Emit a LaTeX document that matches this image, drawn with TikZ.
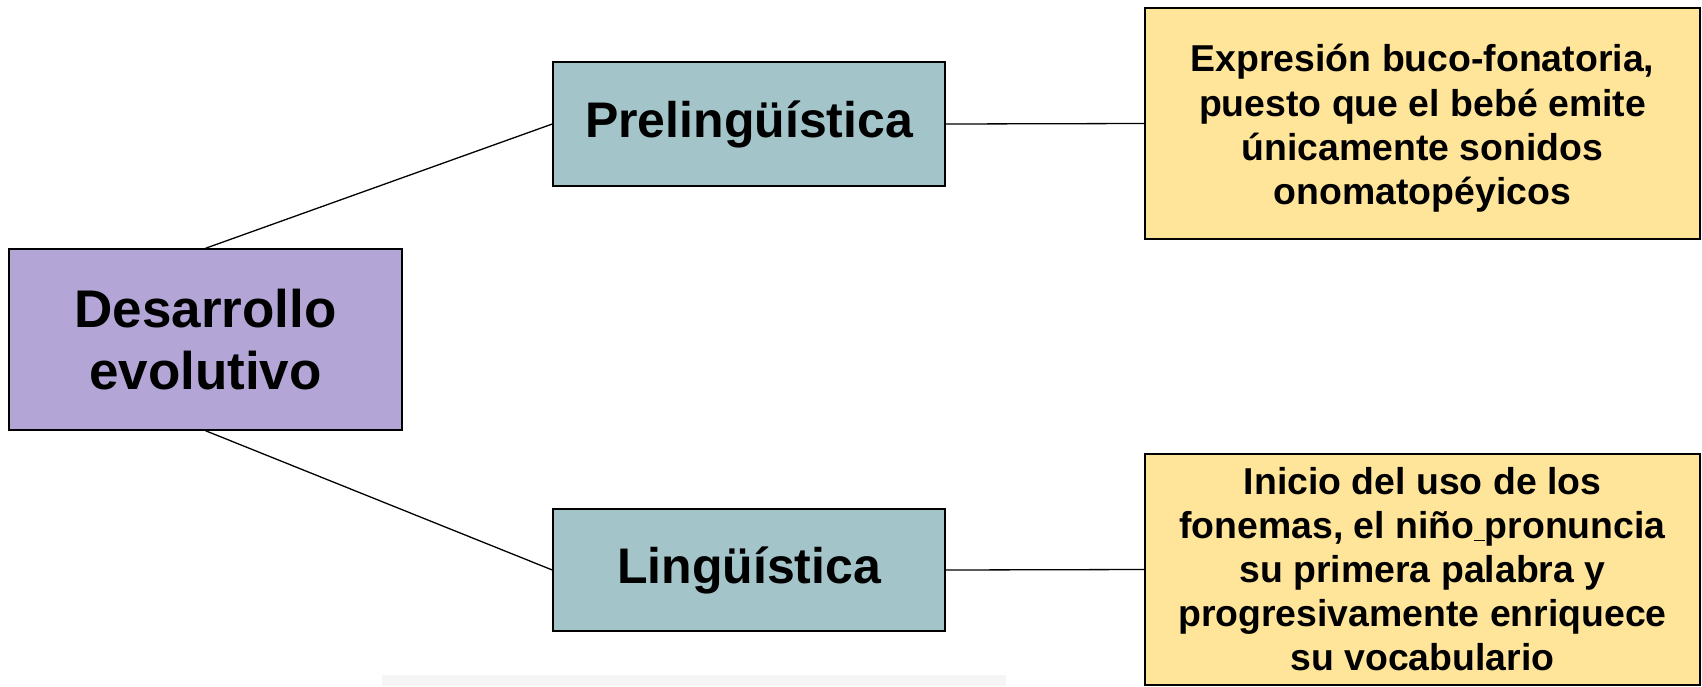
\documentclass[tikz,border=0pt]{standalone}
\usepackage{fontspec}
\setmainfont{Liberation Sans}
\definecolor{purplebox}{RGB}{179,166,214}
\definecolor{tealbox}{RGB}{163,196,201}
\definecolor{yellowbox}{RGB}{255,229,153}
\definecolor{faintbar}{RGB}{245,245,245}
\begin{document}
\begin{tikzpicture}[x=1pt,y=-1pt,
  box/.style={draw=black, line width=1.4pt, align=center, inner sep=0pt},
  conn/.style={line width=1.3pt, draw=black}]
\useasboundingbox (0,0) rectangle (1702,686);
\fill[white] (0,0) rectangle (1702,686);
\fill[faintbar] (382,675) rectangle (1006,686);
\node[box, fill=purplebox, minimum width=393pt, minimum height=181pt,
  font=\bfseries\fontsize{53}{62}\selectfont] (des) at (205.5,339.5) {Desarrollo\\evolutivo};
\node[box, fill=tealbox, minimum width=392pt, minimum height=124pt,
  font=\bfseries\fontsize{50}{58}\selectfont] (pre) at (749,124) {Prelingüística};
\node[box, fill=tealbox, minimum width=392pt, minimum height=122pt,
  font=\bfseries\fontsize{50}{58}\selectfont] (ling) at (749,570) {Lingüística};
\node[box, fill=yellowbox, minimum width=555pt, minimum height=231pt] (ytop) at (1422.5,123.5) {};
\node[align=center, inner sep=0pt, font=\bfseries\fontsize{37.4}{44.3}\selectfont]
  (ytoptext) at ([yshift=-5pt]ytop.center)
  {Expresión buco-fonatoria,\\puesto que el bebé emite\\únicamente sonidos\\onomatopéyicos};
\node[box, fill=yellowbox, minimum width=555pt, minimum height=231pt,
  font=\bfseries\fontsize{37.4}{44}\selectfont] (ybot) at (1422.5,569.5)
  {Inicio del uso de los\\fonemas, el niño\underline{\ }pronuncia\\su primera palabra y\\progresivamente enriquece\\su vocabulario};
\draw[conn] (des.north) -- (pre.west);
\draw[conn] (des.south) -- (ling.west);
\draw[conn] (pre.east) -- (ytop.west);
\draw[conn] (ling.east) -- (ybot.west);
\end{tikzpicture}
\end{document}
